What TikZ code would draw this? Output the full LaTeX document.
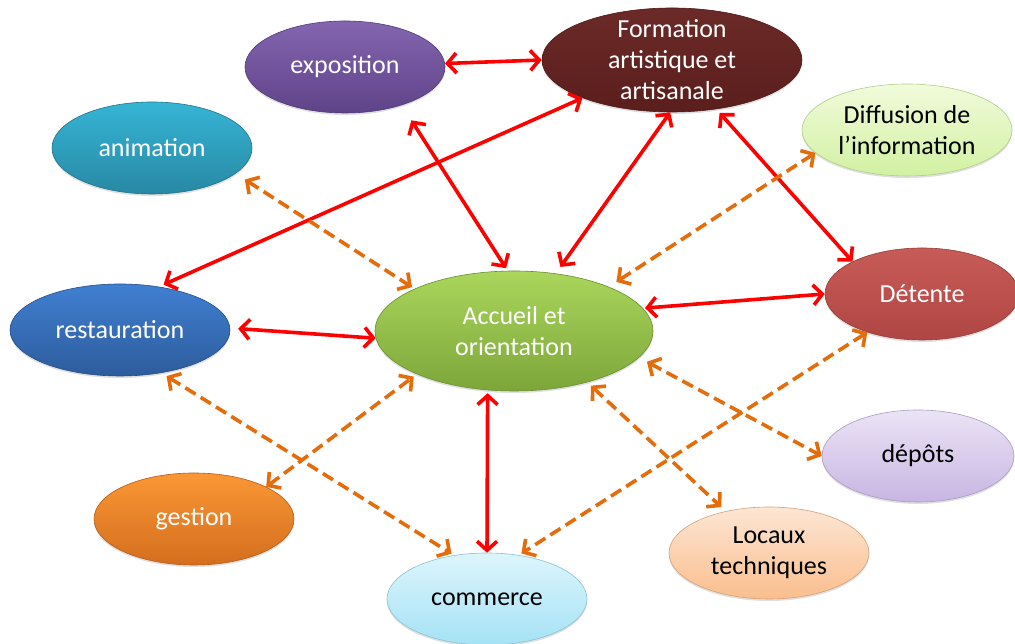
\documentclass[tikz,border=0pt]{standalone}
\usepackage{fontspec}
\setmainfont{Carlito}
\usetikzlibrary{arrows.meta, shapes.geometric, shadows}

\definecolor{linkred}{HTML}{FF0000}
\definecolor{linkorange}{HTML}{E46C0A}
\definecolor{expoA}{HTML}{8465B0}\definecolor{expoB}{HTML}{5F4388}
\definecolor{formA}{HTML}{6B2A28}\definecolor{formB}{HTML}{5A1E1C}
\definecolor{animA}{HTML}{36B5D5}\definecolor{animB}{HTML}{2888A4}
\definecolor{diffA}{HTML}{F1FBDB}\definecolor{diffB}{HTML}{D2F1A2}
\definecolor{restA}{HTML}{407FD1}\definecolor{restB}{HTML}{2D5C9C}
\definecolor{detA}{HTML}{C75B58}\definecolor{detB}{HTML}{B04643}
\definecolor{depA}{HTML}{EBE3F5}\definecolor{depB}{HTML}{C8B6E3}
\definecolor{gestA}{HTML}{FA9735}\definecolor{gestB}{HTML}{D46E1E}
\definecolor{locA}{HTML}{FDE6D4}\definecolor{locB}{HTML}{FABE8E}
\definecolor{comA}{HTML}{DDF5FC}\definecolor{comB}{HTML}{A5E2F6}
\definecolor{accA}{HTML}{AAD65C}\definecolor{accB}{HTML}{7DA63A}

\begin{document}
\begin{tikzpicture}[
    x=1pt, y=1pt,
    >={Straight Barb[length=9pt,width=20pt]},
    font=\fontsize{26}{31}\selectfont,
    bubble/.style={ellipse, align=center, inner sep=0pt, line width=0.6pt,
                   minimum width=200pt, minimum height=92pt,
                   drop shadow={shadow xshift=0pt, shadow yshift=-2pt, opacity=.25}},
    paint/.style={top color=#1A, bottom color=#1B, draw=#1B!85!black},
    dark/.style={text=white},
    link/.style={<->, draw=linkred, line width=3.6pt},
    dlink/.style={<->, draw=linkorange, line width=3.6pt, dash pattern=on 12pt off 6pt}
  ]
    \useasboundingbox (0,0) rectangle (1015,644);

    % outer ring
    \node[bubble, dark, paint=expo] (expo) at (345,577) {exposition};
    \node[bubble, dark, paint=form, minimum width=260pt,
          minimum height=104pt, inner ysep=-6pt] (form) at (672,584)
          {Formation\\artistique et\\artisanale};
    \node[bubble, dark, paint=anim] (anim) at (152,496) {animation};
    \node[bubble, paint=diff, minimum width=210pt] (diff) at (907,514)
          {Diffusion de\\l'information};
    \node[bubble, dark, paint=rest, minimum width=220pt] (rest) at (120,314) {restauration};
    \node[bubble, dark, paint=det, minimum width=194pt] (det) at (922,350) {Détente};
    \node[bubble, paint=dep, minimum width=192pt] (dep) at (918,188) {dépôts};
    \node[bubble, dark, paint=gest] (gest) at (194,125) {gestion};
    \node[bubble, paint=loc] (loc) at (769,91) {Locaux\\techniques};
    \node[bubble, paint=com] (com) at (487,45) {commerce};

    % centre
    \node[bubble, dark, paint=acc, minimum width=278pt,
          minimum height=120pt] (acc) at (514,313) {Accueil et\\orientation};

    \draw[link] (expo.2) -- (form.west);
    \draw[link, shorten <=18pt, shorten >=3pt] (expo.-34) -- (acc.96);
    \draw[link, shorten >=8pt] (form.-92) -- (acc.54);
    \draw[link, shorten >=5pt] (form.-157) -- (rest.48);
    \draw[link, shorten <=5pt] (form.-48) -- (det.155);
    \draw[link, shorten <=8pt] (rest.1) -- (acc.183);
    \draw[link, shorten <=2pt] (acc.10) -- (det.west);
    \draw[link, shorten <=3pt] (acc.-114) -- (com.north);

    \draw[dlink, shorten <=11pt, shorten >=3pt] (anim.-17) -- (acc.157);
    \draw[dlink, shorten >=9pt] (diff.-166) -- (acc.25);
    \draw[dlink, shorten <=6pt, shorten >=3pt] (rest.-46) -- (com.127);
    \draw[dlink, shorten >=4pt] (gest.24) -- (acc.-156);
    \draw[dlink, shorten >=3pt] (det.-145) -- (com.54);
    \draw[dlink, shorten <=9pt] (acc.-12) -- (dep.west);
    \draw[dlink, shorten <=5pt, shorten >=6pt] (acc.-35) -- (loc.136);
  \end{tikzpicture}
\end{document}
